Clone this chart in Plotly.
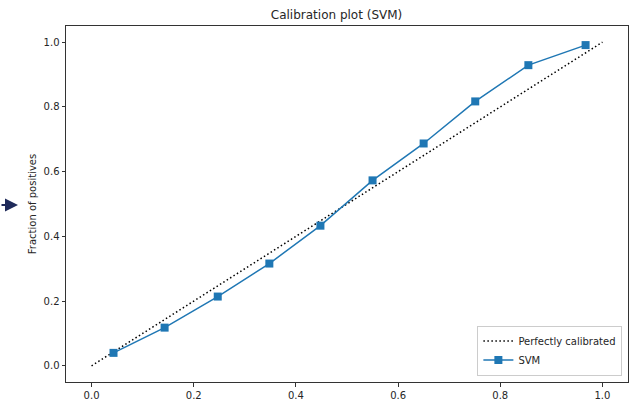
import plotly.graph_objects as go

mean_predicted = [0.043, 0.143, 0.247, 0.348, 0.448, 0.550, 0.650, 0.751, 0.855, 0.967]
fraction_pos = [0.040, 0.118, 0.214, 0.316, 0.433, 0.573, 0.687, 0.817, 0.929, 0.991]
perfect_x = [0.0, 1.0]
perfect_y = [0.0, 1.0]
tick_vals = [0.0, 0.2, 0.4, 0.6, 0.8, 1.0]
tick_text = ["0.0", "0.2", "0.4", "0.6", "0.8", "1.0"]

fig = go.Figure()
fig.add_trace(go.Scatter(x=perfect_x, y=perfect_y, mode="lines", name="Perfectly calibrated",
                         line=dict(color="black", width=1.5, dash="1.5px,2.5px")))
fig.add_trace(go.Scatter(x=mean_predicted, y=fraction_pos, mode="lines+markers", name="SVM",
                         line=dict(color="#1f77b4", width=1.5),
                         marker=dict(symbol="square", size=8, color="#1f77b4")))

axis_common = dict(showgrid=False, zeroline=False, showline=True, linecolor="#333333", linewidth=1,
                   mirror=True, ticks="outside", ticklen=3.5, tickcolor="#333333",
                   tickvals=tick_vals, ticktext=tick_text, automargin=False,
                   tickfont=dict(family="DejaVu Sans", size=10, color="#262626"))

fig.update_layout(
    width=641, height=399,
    margin=dict(l=66, r=13, t=26, b=17),
    paper_bgcolor="white", plot_bgcolor="white",
    title=dict(text="Calibration plot (SVM)", x=0.525, xanchor="center", y=1 - 15 / 399, yanchor="middle",
               yref="container",
               font=dict(family="DejaVu Sans", size=12, color="#262626")),
    xaxis=dict(range=[-0.05, 1.05], **axis_common),
    yaxis=dict(range=[-0.05, 1.05], title=dict(text="Fraction of positives", standoff=5,
               font=dict(family="DejaVu Sans", size=10, color="#262626")), **axis_common),
    legend=dict(x=0.99, y=0.018, xanchor="right", yanchor="bottom",
                bgcolor="rgba(255,255,255,0.8)", bordercolor="#cccccc", borderwidth=1,
                font=dict(family="DejaVu Sans", size=10, color="#262626"),
                tracegroupgap=0, itemwidth=30),
    showlegend=True,
)

fig.add_annotation(xref="paper", yref="paper", x=(18 - 66) / 562, y=(382 - 205) / 356, ax=-18, ay=0,
                   showarrow=True, arrowhead=2, arrowsize=1.3, arrowwidth=2, arrowcolor="#1f2a5a",
                   text="")

fig.write_html("out.html", config={"displayModeBar": False},
               post_script="document.body.style.margin='0';document.body.style.overflow='hidden';")
